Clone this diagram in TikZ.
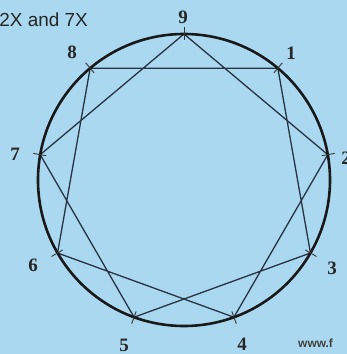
\documentclass[tikz,border=0pt]{standalone}
\usepackage{fontspec}
\setmainfont{Liberation Serif}
\newfontfamily\arialf{Liberation Sans}
\definecolor{bg}{RGB}{170,216,240}
\definecolor{starc}{RGB}{40,52,66}
\begin{document}
\begin{tikzpicture}[x=1bp,y=1bp,
  lbl/.style={font=\bfseries\fontsize{19}{19}\selectfont, inner sep=0pt, text=black!85},
  starline/.style={draw=starc, line width=1.3bp, line join=miter},
  ringline/.style={draw=black!90, line width=2.6bp},
  tickline/.style={draw=black!80, line width=0.9bp}]
\useasboundingbox (0,0) rectangle (347,354);
\clip (0,0) rectangle (347,354);
\fill[bg] (0,0) rectangle (347,354);
\coordinate (c) at (184,174);
\foreach \i in {1,...,9} {
  \coordinate (p\i) at ([shift={(c)}]{90-40*\i}:146);
  \coordinate (ti\i) at ([shift={(c)}]{90-40*\i}:140);
  \coordinate (to\i) at ([shift={(c)}]{90-40*\i}:153);
}
\draw[starline] (p1) -- (p8) -- (p6) -- (p4) -- (p2) -- (p9) -- (p7) -- (p5) -- (p3) -- cycle;
\draw[ringline] (c) circle (146);
\foreach \i in {1,...,9} { \draw[tickline] (ti\i) -- (to\i); }
\node[lbl] (l9) at (183,336.5) {9};
\node[lbl] (l1) at (291,301) {1};
\node[lbl] (l2) at (346,196) {2};
\node[lbl] (l3) at (332,86) {3};
\node[lbl] (l4) at (242,10) {4};
\node[lbl] (l5) at (124,9) {5};
\node[lbl] (l6) at (33,89) {6};
\node[lbl] (l7) at (15,200) {7};
\node[lbl] (l8) at (72,302) {8};
\node[anchor=base east, font=\arialf\fontsize{19}{19}\selectfont, inner sep=0pt, text=black!85] (title) at (88,328) {2X and 7X};
\node[anchor=base west, font=\arialf\bfseries\fontsize{12}{12}\selectfont, inner sep=0pt, text=black!75] (web) at (298,7) {www.f};
\end{tikzpicture}
\end{document}
